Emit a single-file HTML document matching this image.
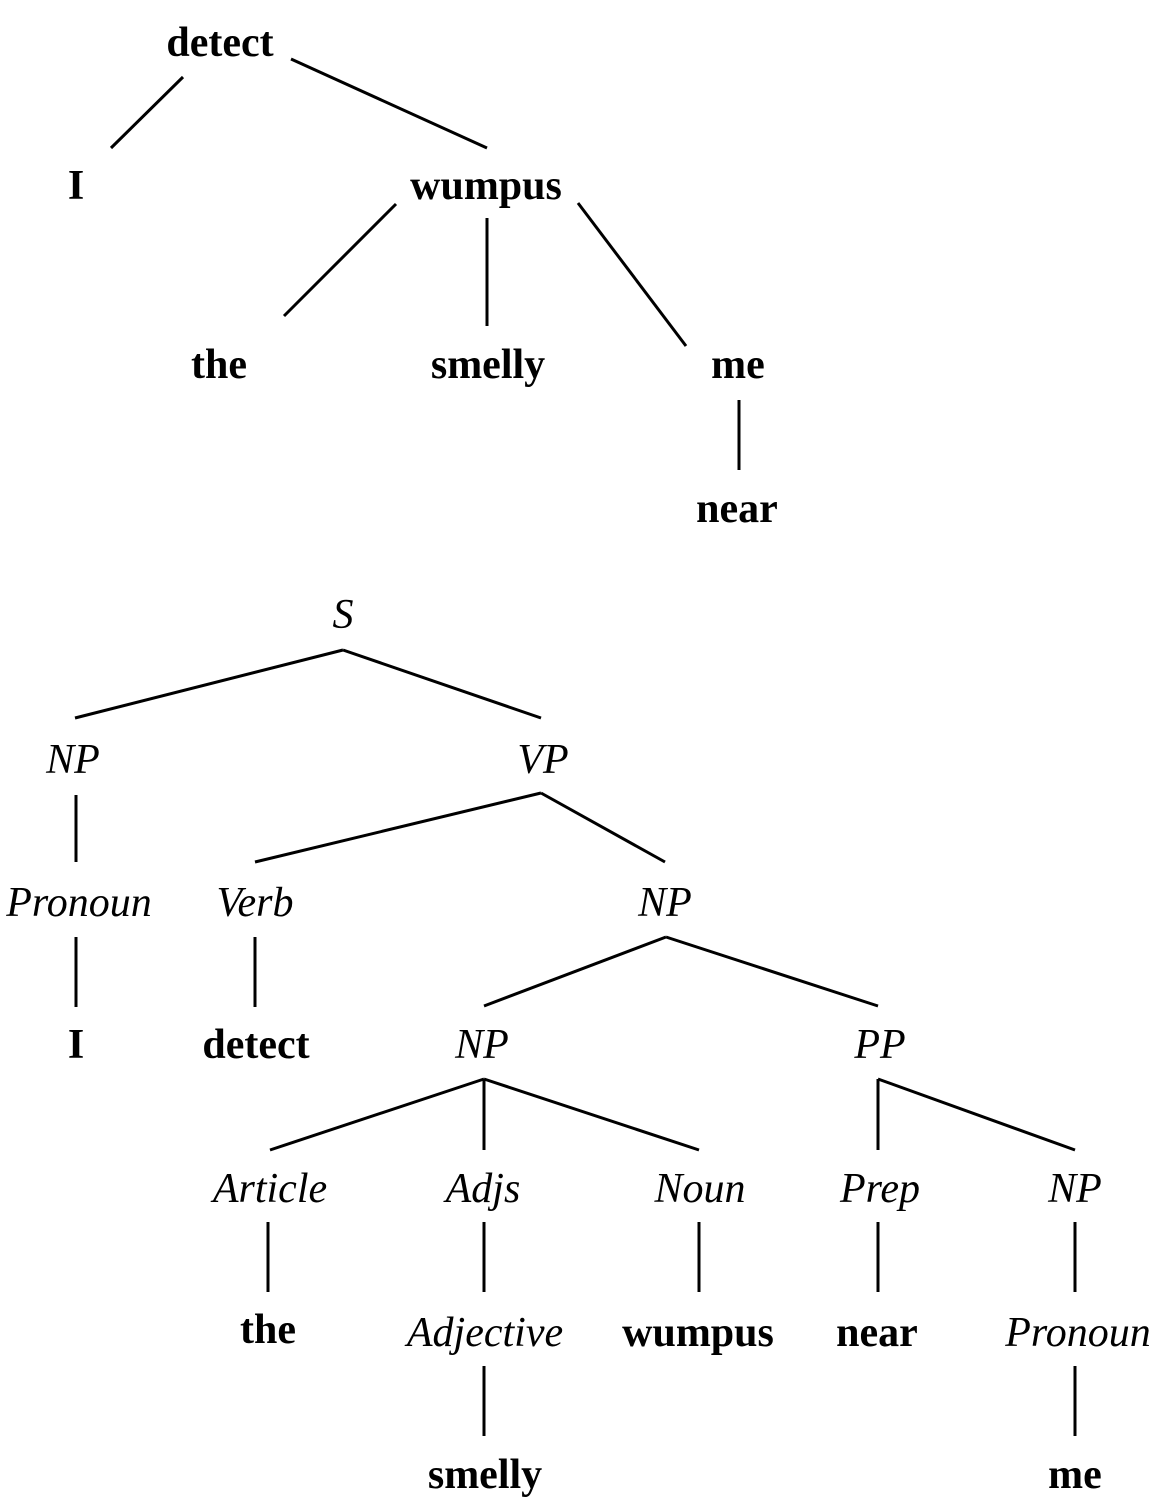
<!DOCTYPE html>
<html><head><meta charset="utf-8"><style>
html,body{margin:0;padding:0;background:#fff;}
svg{display:block;}
text{font-family:"Liberation Serif",serif;font-size:42px;text-anchor:middle;dominant-baseline:central;fill:#000;}
.b{font-weight:bold;}
.i{font-style:italic;}
line{stroke:#000;stroke-width:3;}
</style></head><body>
<svg width="1163" height="1511" viewBox="0 0 1163 1511" xmlns="http://www.w3.org/2000/svg">
<g>
<line x1="183" y1="77" x2="111" y2="148"/>
<line x1="291" y1="59" x2="487" y2="148"/>
<line x1="396" y1="204" x2="284" y2="316"/>
<line x1="487" y1="218" x2="487" y2="326"/>
<line x1="578" y1="203" x2="686" y2="346"/>
<line x1="739" y1="400" x2="739" y2="470"/>

<line x1="343" y1="650" x2="75" y2="718"/>
<line x1="343" y1="650" x2="541" y2="718"/>
<line x1="76" y1="795" x2="76" y2="862"/>
<line x1="541" y1="793" x2="255" y2="862"/>
<line x1="541" y1="793" x2="665" y2="862"/>
<line x1="76" y1="937" x2="76" y2="1007"/>
<line x1="255" y1="937" x2="255" y2="1007"/>
<line x1="666" y1="937" x2="484" y2="1006"/>
<line x1="666" y1="937" x2="878" y2="1006"/>
<line x1="484" y1="1079" x2="270" y2="1150"/>
<line x1="484" y1="1079" x2="484" y2="1150"/>
<line x1="484" y1="1079" x2="699" y2="1150"/>
<line x1="878" y1="1079" x2="878" y2="1150"/>
<line x1="878" y1="1079" x2="1075" y2="1150"/>
<line x1="268" y1="1222" x2="268" y2="1292"/>
<line x1="484" y1="1222" x2="484" y2="1292"/>
<line x1="699" y1="1222" x2="699" y2="1292"/>
<line x1="878" y1="1222" x2="878" y2="1292"/>
<line x1="1075" y1="1222" x2="1075" y2="1292"/>
<line x1="484" y1="1366" x2="484" y2="1436"/>
<line x1="1075" y1="1366" x2="1075" y2="1436"/>
</g>
<g class="b">
<text class="b" x="220" y="43">detect</text>
<text class="b" x="76" y="186">I</text>
<text class="b" x="486" y="186">wumpus</text>
<text class="b" x="219" y="365">the</text>
<text class="b" x="488" y="365">smelly</text>
<text class="b" x="738" y="365">me</text>
<text class="b" x="737" y="509">near</text>

<text class="b" x="76" y="1045">I</text>
<text class="b" x="256" y="1045">detect</text>
<text class="b" x="268" y="1330">the</text>
<text class="b" x="698" y="1333">wumpus</text>
<text class="b" x="877" y="1333">near</text>
<text class="b" x="485" y="1475">smelly</text>
<text class="b" x="1075" y="1475">me</text>
</g>
<g>
<text class="i" x="343" y="615">S</text>
<text class="i" x="73" y="760">NP</text>
<text class="i" x="543" y="760">VP</text>
<text class="i" x="79" y="903">Pronoun</text>
<text class="i" x="255" y="903">Verb</text>
<text class="i" x="665" y="903">NP</text>
<text class="i" x="482" y="1045">NP</text>
<text class="i" x="880" y="1045">PP</text>
<text class="i" x="270" y="1189">Article</text>
<text class="i" x="483" y="1189">Adjs</text>
<text class="i" x="700" y="1189">Noun</text>
<text class="i" x="880" y="1189">Prep</text>
<text class="i" x="1075" y="1189">NP</text>
<text class="i" x="485" y="1333">Adjective</text>
<text class="i" x="1078" y="1333">Pronoun</text>
</g>
</svg>
</body></html>
